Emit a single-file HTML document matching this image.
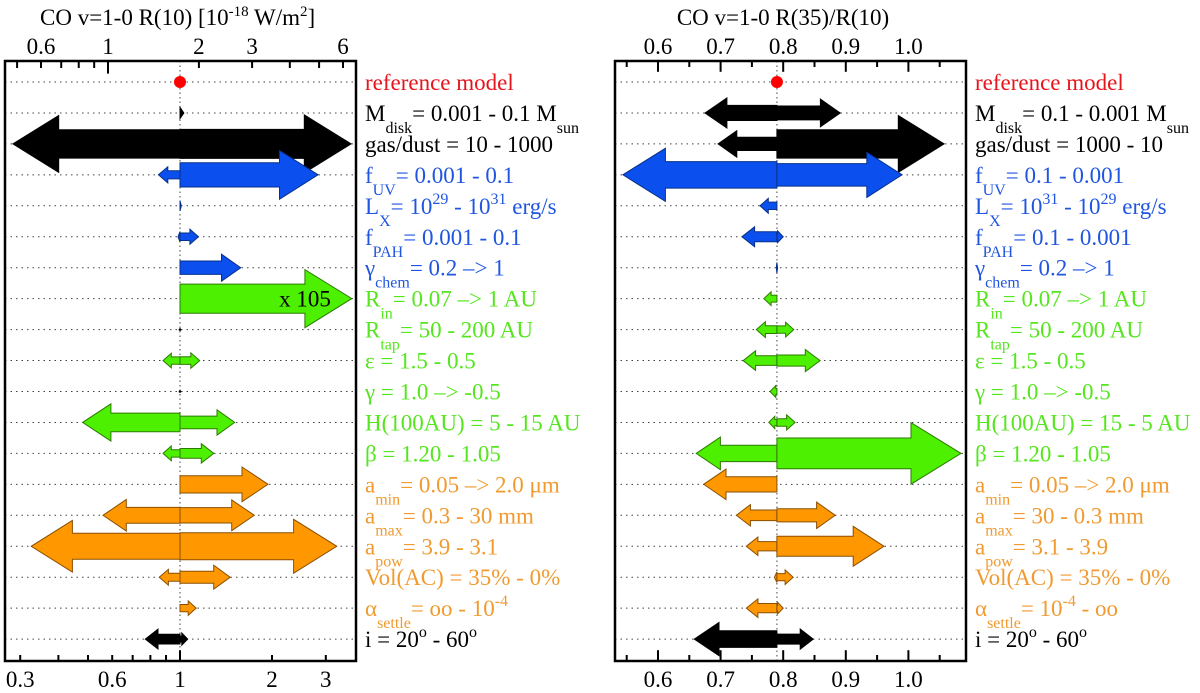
<!DOCTYPE html>
<html><head><meta charset="utf-8"><style>
html,body{margin:0;padding:0;background:#fff;}
svg{display:block;font-family:"Liberation Serif",serif;}
</style></head><body>
<svg id="chart" width="1200" height="693" viewBox="0 0 1200 693" xmlns="http://www.w3.org/2000/svg"></svg>
<script>
// ---------- data ----------
const rowColors = ["red","black","black","blue","blue","blue","blue","green","green","green","green","green","green","orange","orange","orange","orange","orange","black"];
// Left panel: R(10) flux relative to reference model (ref = 1)
const leftRef = 1.0;
const leftLow  = [1.0, 1.0, 0.284, 0.85, 1.0, 0.985, 1.0, 1.0, 1.0, 0.88, 1.0, 0.48, 0.88, 1.0, 0.56, 0.326, 0.855, 1.0, 0.77];
const leftHigh = [1.0, 1.03, 3.63, 2.83, 1.01, 1.15, 1.58, 3.65, 1.0, 1.16, 1.0, 1.51, 1.29, 1.94, 1.75, 3.26, 1.46, 1.13, 1.06];
const leftBottomTicks = [0.3, 0.4, 0.5, 0.6, 0.7, 0.8, 0.9, 1, 2, 3];
const leftBottomLabels = ["0.3", "0.6", "1", "2", "3"];
const leftTopTicks = [0.5, 0.6, 0.7, 0.8, 0.9, 1, 2, 3, 4, 5, 6];
const leftTopLabels = ["0.6", "1", "2", "3", "6"];
// Right panel: R(35)/R(10) ratio
const rightRef = 0.79;
const rightLow  = [0.79, 0.675, 0.696, 0.544, 0.763, 0.734, 0.789, 0.769, 0.757, 0.736, 0.779, 0.777, 0.661, 0.673, 0.725, 0.741, 0.786, 0.741, 0.658];
const rightHigh = [0.79, 0.891, 1.057, 0.99, 0.79, 0.80, 0.791, 0.79, 0.817, 0.859, 0.79, 0.819, 1.084, 0.79, 0.883, 0.961, 0.816, 0.80, 0.848];
const rightTicks = [0.55, 0.6, 0.65, 0.7, 0.75, 0.8, 0.85, 0.9, 0.95, 1.0, 1.05];
const rightLabels = ["0.6", "0.7", "0.8", "0.9", "1.0"];
const leftNames = ["reference model","M_{disk}= 0.001 - 0.1 M_{sun}","gas/dust = 10 - 1000","f_{UV}= 0.001 - 0.1","L_{X}= 10^{29} - 10^{31} erg/s","f_{PAH}= 0.001 - 0.1","γ_{chem}= 0.2 –> 1","R_{in}= 0.07 –> 1 AU","R_{tap}= 50 - 200 AU","ε = 1.5 - 0.5","γ = 1.0 –> -0.5","H(100AU) = 5 - 15 AU","β = 1.20 - 1.05","a_{min}= 0.05 –> 2.0 μm","a_{max}= 0.3 - 30 mm","a_{pow}= 3.9 - 3.1","Vol(AC) = 35% - 0%","α_{settle}= oo - 10^{-4}","i = 20^{o} - 60^{o}"];
const rightNames = ["reference model","M_{disk}= 0.1 - 0.001 M_{sun}","gas/dust = 1000 - 10","f_{UV}= 0.1 - 0.001","L_{X}= 10^{31} - 10^{29} erg/s","f_{PAH}= 0.1 - 0.001","γ_{chem}= 0.2 –> 1","R_{in}= 0.07 –> 1 AU","R_{tap}= 50 - 200 AU","ε = 1.5 - 0.5","γ = 1.0 –> -0.5","H(100AU) = 15 - 5 AU","β = 1.20 - 1.05","a_{min}= 0.05 –> 2.0 μm","a_{max}= 30 - 0.3 mm","a_{pow}= 3.1 - 3.9","Vol(AC) = 35% - 0%","α_{settle}= 10^{-4} - oo","i = 20^{o} - 60^{o}"];

// ---------- helpers ----------
const NS = "http://www.w3.org/2000/svg";
const svg = document.getElementById("chart");
const fill = {red:"#ff0000",black:"#000000",blue:"#0b50ee",green:"#4cf000",orange:"#ff9800"};
const stroke = {red:"#ff0000",black:"#000000",blue:"#06308a",green:"#2c7a00",orange:"#8a4f00"};
const textCol = {red:"#e8141c",black:"#000000",blue:"#1f55e0",green:"#55e61e",orange:"#f09a30"};
const FS = 23, SFS = 16;
function mk(tag, attrs, parent){
  const e = document.createElementNS(NS, tag);
  for (const k in attrs) e.setAttribute(k, attrs[k]);
  (parent||svg).appendChild(e);
  return e;
}
const TOP = 61, BOT = 661;
function rowY(i){ return 82 + i*30.95; }
const L = {x0:5, x1:356};
const R = {x0:615, x1:966};
function lx(v){ return 180 + 305.6*Math.log10(v); }
function lxTop(v){ return 108 + 302*Math.log10(v); }
function rx(v){ return 658 + (v-0.6)*626; }

function arrow(g, xs, xe, y, color, name){
  const len = Math.abs(xe-xs);
  if (len < 0.5) return;
  const d = Math.sign(xe-xs);
  const h = 5 + 0.14*len, s = h*0.5;
  const hl = Math.min(len, 0.25*len + 4);
  const xb = xe - d*hl;
  const pts = [[xs,y-s],[xb,y-s],[xb,y-h],[xe,y],[xb,y+h],[xb,y+s],[xs,y+s]].map(p=>p[0].toFixed(1)+","+p[1].toFixed(1)).join(" ");
  const p = mk("polygon",{points:pts,fill:fill[color],stroke:stroke[color],"stroke-width":1,"stroke-linejoin":"miter"},g);
  
  
}
function richText(g, x, y, str, color, name){
  const t = mk("text",{x:x,y:y,"font-size":FS,fill:textCol[color]},g);
  
  
  const re = /([_^])\{([^}]*)\}/g;
  let last = 0, m;
  while ((m = re.exec(str))){
    if (m.index > last) { const s = mk("tspan",{},t); s.textContent = str.slice(last, m.index); }
    const sub = m[1] === "_";
    const dy = sub ? 12 : -10;
    const s = mk("tspan",{dy:dy,"font-size":SFS},t); s.textContent = m[2];
    const b = mk("tspan",{dy:-dy},t); b.textContent = "\u200b";
    last = re.lastIndex;
  }
  if (last < str.length){ const s = mk("tspan",{},t); s.textContent = str.slice(last); }
}

function panel(P, xf, ref, lo, hi, names, pname){
  const g = mk("g",{});
  
  
  for (let i=0;i<names.length;i++){
    const ln = mk("line",{x1:P.x0,x2:P.x1,y1:rowY(i),y2:rowY(i),stroke:"#444","stroke-width":1,"stroke-dasharray":"1.5,4"},g);
    
    
  }
  const xr = xf(ref);
  const vl = mk("line",{x1:xr,x2:xr,y1:TOP,y2:BOT,stroke:"#444","stroke-width":1,"stroke-dasharray":"1.5,3"},g);
  
  
  for (let i=1;i<names.length;i++){
    const y = rowY(i);
    arrow(g, xr, xf(lo[i]), y, rowColors[i], 'arrow-low-row'+i);
    arrow(g, xr, xf(hi[i]), y, rowColors[i], 'arrow-high-row'+i);
    if (Math.abs(xf(lo[i])-xr)<0.5 && Math.abs(xf(hi[i])-xr)<0.5){
      const dt = mk("circle",{cx:xr,cy:y,r:1.3,fill:"#000"},g);
      
      
    }
  }
  const dot = mk("circle",{cx:xr,cy:rowY(0),r:6,fill:"#ff0000"},g);
  
  
  for (let i=0;i<names.length;i++){
    richText(g, P.x1+9, rowY(i)+8, names[i], rowColors[i], 'row-label-'+i);
  }
  return g;
}

panel(L, lx, leftRef, leftLow, leftHigh, leftNames, 'left');
const ann = mk("text",{x:305,y:rowY(7)+8,"font-size":FS,fill:"#000","text-anchor":"middle"});
ann.textContent = "x 105";


panel(R, rx, rightRef, rightLow, rightHigh, rightNames, 'right');

function frame(P, name){
  const r = mk("rect",{x:P.x0,y:TOP,width:P.x1-P.x0,height:BOT-TOP,fill:"none",stroke:"#000","stroke-width":2.5});
  
  
}
frame(L,'left-plot-frame'); frame(R,'right-plot-frame');

function ticks(list, f, y, dir, len, major, name){
  list.forEach(v=>{
    const x = f(v);
    const l = (major && major.indexOf(v)>=0) ? len*1.8 : len;
    const t = mk("line",{x1:x,x2:x,y1:y,y2:y+dir*l,stroke:"#000","stroke-width":2});
    
    
  });
}
function labels(list, f, y, name){
  list.forEach(s=>{
    const t = mk("text",{x:f(parseFloat(s)),y:y,"font-size":FS,"text-anchor":"middle",fill:"#000"});
    t.textContent = s;
    
    
  });
}
ticks(leftBottomTicks, lx, BOT, -1, 6, [1], 'left-bottom-tick');
labels(leftBottomLabels, lx, 687, 'left-bottom-tick-label');
ticks(leftTopTicks, lxTop, TOP, 1, 7, [1], 'left-top-tick');
labels(leftTopLabels, lxTop, 54, 'left-top-tick-label');
ticks(rightTicks, rx, BOT, -1, 6, [0.6,0.7,0.8,0.9,1.0], 'right-bottom-tick');
labels(rightLabels, rx, 687, 'right-bottom-tick-label');
ticks(rightTicks, rx, TOP, 1, 6, [0.6,0.7,0.8,0.9,1.0], 'right-top-tick');
labels(rightLabels, rx, 54, 'right-top-tick-label');

const t1 = mk("text",{x:40,y:25,"font-size":FS,fill:"#000"});


t1.innerHTML = 'CO v=1-0 R(10) [10<tspan dy="-9" font-size="15">-18</tspan><tspan dy="9"> W/m</tspan><tspan dy="-9" font-size="15">2</tspan><tspan dy="9">]</tspan>';
const t2 = mk("text",{x:783,y:25,"font-size":FS,fill:"#000","text-anchor":"middle"});


t2.textContent = "CO v=1-0 R(35)/R(10)";
</script>
</body></html>
